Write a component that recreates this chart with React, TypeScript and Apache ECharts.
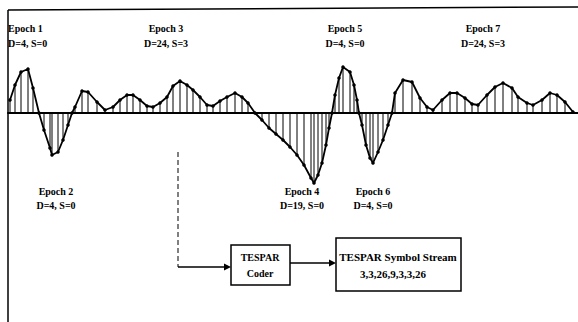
import React, { useEffect, useRef } from "react";
import * as echarts from "echarts";

// sample times and amplitudes of the waveform (arbitrary units)
const sampleTimes = [
  2, 7, 13, 20, 25, 31,
  36, 42, 44, 50, 55, 60, 64,
  67, 74, 80, 89, 97, 105, 112, 119, 125, 132, 139, 145, 152, 159, 165, 172, 179, 185, 192, 199, 205, 212, 219, 227, 234, 240, 247,
  254, 261, 268, 275, 282, 289, 296, 303, 306, 310, 314, 318, 321, 324,
  327, 331, 335, 342, 346, 349, 351,
  354, 358, 362, 365, 370, 375, 380, 384,
  387, 395, 404, 412, 419, 425, 434, 442, 449, 457, 464, 470, 479, 487, 495, 504, 510, 519, 525, 534, 542, 549, 557, 565,
];
const amplitudes = [
  13, 28, 41, 44, 25, 0,
  -17, -35, -42, -39, -27, -12, 0,
  6, 22, 21, 11, 3, 6, 13, 18, 18, 13, 7, 6, 10, 16, 27, 32, 28, 23, 16, 8, 7, 12, 16, 20, 16, 10, 0,
  -7, -15, -21, -27, -34, -42, -52, -65, -70, -62, -50, -32, -15, 0,
  18, 35, 46, 41, 28, 13, 0,
  -12, -32, -45, -50, -39, -27, -12, 0,
  20, 33, 31, 15, 6, 3, 13, 20, 20, 15, 9, 8, 18, 26, 30, 25, 16, 10, 8, 13, 20, 18, 11, 1,
];

const epochTopLabels = ["Epoch 1", "Epoch 3", "Epoch 5", "Epoch 7"];
const epochTopParams = ["D=4, S=0", "D=24, S=3", "D=4, S=0", "D=24, S=3"];
const epochBottomLabels = ["Epoch 2", "Epoch 4", "Epoch 6"];
const epochBottomParams = ["D=4, S=0", "D=19, S=0", "D=4, S=0"];
const coderLines = ["TESPAR", "Coder"];
const streamLines = ["TESPAR Symbol Stream", "3,3,26,9,3,3,26"];

const FONT = "Liberation Serif";

export default function App() {
  const ref = useRef<HTMLDivElement>(null);
  useEffect(() => {
    if (!ref.current) return;
    const chart = echarts.init(ref.current, null, { renderer: "svg" });
    const data = sampleTimes.map((t, i) => [t, amplitudes[i]]);
    const txt = (x: number, y: number, s: string, align = "center", size = 10) => ({
      type: "text",
      x,
      y,
      style: {
        text: s,
        fill: "#000",
        font: `bold ${size}px "${FONT}"`,
        align,
        verticalAlign: "middle",
      },
    });
    const topPos = [
      [8, "left"],
      [166, "center"],
      [345, "center"],
      [483, "center"],
    ];
    const bottomPos = [56, 302, 373];
    const graphics: any[] = [
      { type: "line", shape: { x1: 8, y1: 10, x2: 578, y2: 7 }, style: { stroke: "#000", lineWidth: 1.5 } },
      { type: "line", shape: { x1: 8, y1: 10, x2: 8, y2: 322 }, style: { stroke: "#000", lineWidth: 1.5 } },
      { type: "line", shape: { x1: 178, y1: 152, x2: 178, y2: 267 }, style: { stroke: "#000", lineWidth: 1, lineDash: [5, 3] } },
      { type: "line", shape: { x1: 178, y1: 267, x2: 226, y2: 267 }, style: { stroke: "#000", lineWidth: 1.5 } },
      { type: "polygon", shape: { points: [[224, 263.5], [231, 267], [224, 270.5]] }, style: { fill: "#000" } },
      { type: "rect", shape: { x: 231, y: 245, width: 59, height: 40 }, style: { fill: "#fff", stroke: "#000", lineWidth: 1.5 } },
      { type: "line", shape: { x1: 290, y1: 263, x2: 331, y2: 263 }, style: { stroke: "#000", lineWidth: 1.5 } },
      { type: "polygon", shape: { points: [[329, 259.5], [336, 263], [329, 266.5]] }, style: { fill: "#000" } },
      { type: "rect", shape: { x: 336, y: 238, width: 125, height: 53 }, style: { fill: "#fff", stroke: "#000", lineWidth: 1.5 } },
      txt(260, 257, coderLines[0]),
      txt(260, 273, coderLines[1]),
      txt(398, 257, streamLines[0], "center", 11),
      txt(393, 274, streamLines[1], "center", 11),
    ];
    epochTopLabels.forEach((l, i) => {
      const [x, a] = topPos[i] as [number, string];
      graphics.push(txt(x, 28, l, a));
      graphics.push(txt(x, 43, epochTopParams[i], a));
    });
    epochBottomLabels.forEach((l, i) => {
      graphics.push(txt(bottomPos[i], 191, l));
      graphics.push(txt(bottomPos[i], 205, epochBottomParams[i]));
    });

    chart.setOption({
      animation: false,
      backgroundColor: "#fff",
      grid: { left: 8, top: 10, width: 570, height: 200 },
      xAxis: {
        type: "value",
        min: 0,
        max: 570,
        axisLine: { show: true, onZero: true, lineStyle: { color: "#000", width: 2 } },
        axisTick: { show: false },
        axisLabel: { show: false },
        splitLine: { show: false },
      },
      yAxis: {
        type: "value",
        min: -97,
        max: 103,
        show: false,
        splitLine: { show: false },
      },
      series: [
        {
          type: "custom",
          data,
          renderItem: (params: any, api: any) => {
            const p = api.coord([api.value(0), api.value(1)]);
            const b = api.coord([api.value(0), 0]);
            return {
              type: "line",
              shape: { x1: p[0], y1: p[1], x2: b[0], y2: b[1] },
              style: { stroke: "#000", lineWidth: 1 },
            };
          },
          silent: true,
        },
        {
          type: "line",
          data,
          symbol: "circle",
          symbolSize: 3.5,
          lineStyle: { color: "#000", width: 1.8 },
          itemStyle: { color: "#000" },
          silent: true,
        },
      ],
      graphic: graphics,
    });
    return () => chart.dispose();
  }, []);
  return <div ref={ref} style={{ width: 578, height: 322, position: "absolute", left: 0, top: 0 }} />;
}
